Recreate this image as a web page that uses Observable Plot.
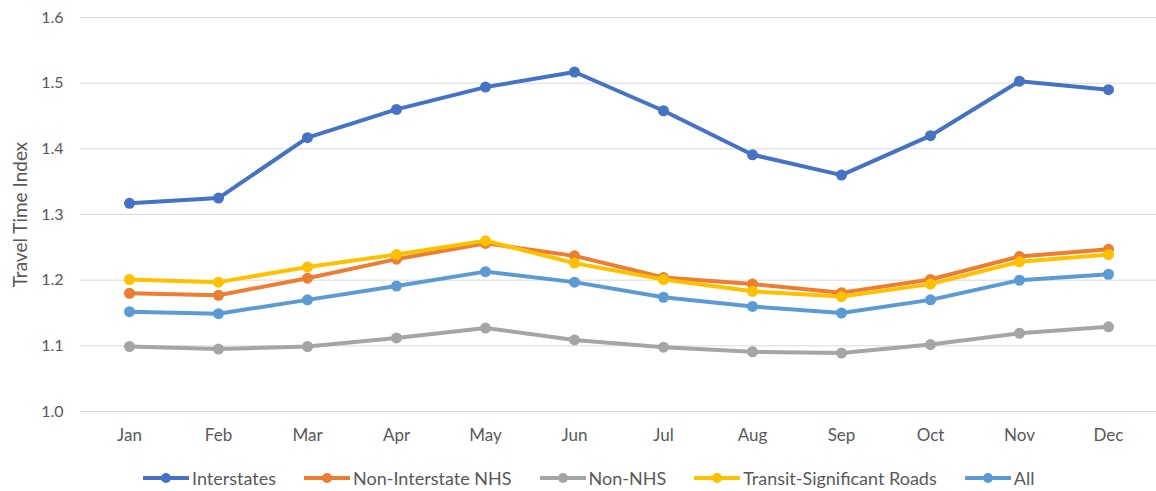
<!DOCTYPE html>
<html><head><meta charset="utf-8">
<script src="https://cdn.jsdelivr.net/npm/d3@7"></script>
<script src="https://cdn.jsdelivr.net/npm/@observablehq/plot@0.6"></script>
<style>
body{margin:0;background:#fff;font-family:Lato,"Open Sans",sans-serif;}
#legend{display:flex;gap:28px;margin-left:143px;margin-top:18px;height:20px;align-items:center;font-size:18px;color:#595959;}
.item{display:flex;align-items:center;gap:3px;}
</style></head><body><div id="chart"></div><div id="legend"></div>
<script>
const months = ["Jan","Feb","Mar","Apr","May","Jun","Jul","Aug","Sep","Oct","Nov","Dec"];
const seriesNames = ["Interstates","Non-Interstate NHS","Non-NHS","Transit-Significant Roads","All"];
const seriesColors = ["#4472C4","#ED7D31","#A5A5A5","#FFC000","#5B9BD5"];
const interstates = [1.317,1.325,1.417,1.460,1.494,1.517,1.458,1.391,1.360,1.420,1.503,1.490];
const nonInterstateNHS = [1.180,1.177,1.203,1.232,1.256,1.237,1.204,1.194,1.181,1.201,1.236,1.247];
const nonNHS = [1.099,1.095,1.099,1.112,1.127,1.109,1.098,1.091,1.089,1.102,1.119,1.129];
const transitSignificant = [1.201,1.197,1.220,1.239,1.260,1.226,1.201,1.183,1.175,1.194,1.228,1.239];
const allRoads = [1.152,1.149,1.170,1.191,1.213,1.197,1.174,1.160,1.150,1.170,1.200,1.209];
const yTicks = [1.0,1.1,1.2,1.3,1.4,1.5,1.6];
const yTitle = "Travel Time Index";

const seriesValues = [interstates, nonInterstateNHS, nonNHS, transitSignificant, allRoads];
const data = seriesNames.map((name, i) => seriesValues[i].map((v, j) => ({series: name, month: months[j], value: v})));

const marks = [
  Plot.gridY(yTicks, {stroke: "#d9d9d9", strokeOpacity: 1, strokeWidth: 1}),
  Plot.axisY({ticks: yTicks, tickSize: 0, tickPadding: 17, tickFormat: d3.format(".1f"),
    label: null, fill: "#595959", fontSize: 16}),
  Plot.text([yTitle], {frameAnchor: "left", textAnchor: "middle", rotate: -90, dx: -60, fontSize: 19, fill: "#595959"}),
  Plot.axisX({tickSize: 0, tickPadding: 17, label: null, fill: "#595959", fontSize: 17})
];
data.forEach((d, i) => {
  marks.push(Plot.lineY(d, {x: "month", y: "value", stroke: seriesColors[i], strokeWidth: 4, strokeLinejoin: "round", strokeLinecap: "round"}));
  marks.push(Plot.dot(d, {x: "month", y: "value", fill: seriesColors[i], r: 5.5}));
});

const chart = Plot.plot({
  width: 1156, height: 450,
  marginLeft: 80, marginRight: 0, marginTop: 17, marginBottom: 39,
  style: {fontFamily: "Lato, 'Open Sans', sans-serif", fontSize: "16px", color: "#595959", background: "#fff"},
  x: {type: "point", domain: months, padding: 0.5},
  y: {domain: [1.0, 1.6]},
  marks
});
document.getElementById("chart").appendChild(chart);

const legend = document.getElementById("legend");
seriesNames.forEach((name, i) => {
  const item = document.createElement("div");
  item.className = "item";
  item.innerHTML = `<svg width="46" height="12"><line x1="1" y1="6" x2="45" y2="6" stroke="${seriesColors[i]}" stroke-width="4" stroke-linecap="round"/><circle cx="23" cy="6" r="5" fill="${seriesColors[i]}"/></svg><span>${name}</span>`;
  legend.appendChild(item);
});
</script>
</body></html>
